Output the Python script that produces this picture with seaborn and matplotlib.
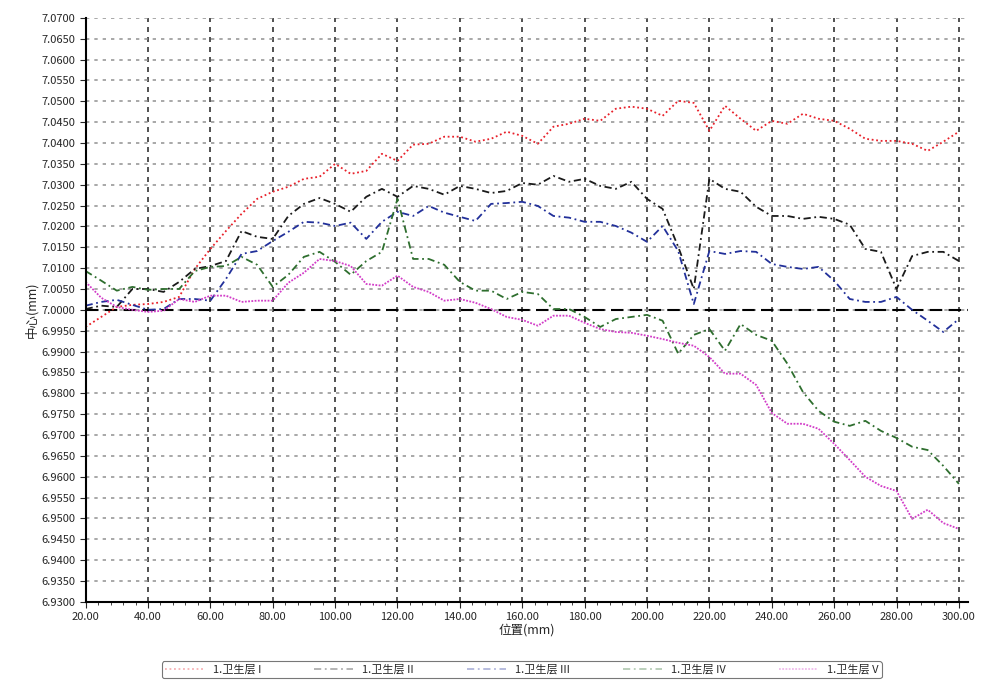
import numpy as np
import pandas as pd
import seaborn as sns
from matplotlib import pyplot as plt
from matplotlib.ticker import MultipleLocator, FormatStrFormatter

# positions along the part (mm)
positions = list(range(20, 301, 5))

layer_1 = [6.9959, 6.9983, 7.0007, 7.0012, 7.0014, 7.0019, 7.0031, 7.0098, 7.0146, 7.0189,
           7.0230, 7.0266, 7.0283, 7.0295, 7.0314, 7.0319, 7.0350, 7.0326, 7.0333, 7.0374,
           7.0357, 7.0396, 7.0398, 7.0415, 7.0415, 7.0403, 7.0410, 7.0427, 7.0417, 7.0398,
           7.0439, 7.0446, 7.0458, 7.0453, 7.0482, 7.0487, 7.0482, 7.0465, 7.0501, 7.0496,
           7.0429, 7.0489, 7.0458, 7.0429, 7.0453, 7.0446, 7.0470, 7.0458, 7.0453, 7.0434,
           7.0410, 7.0405, 7.0405, 7.0398, 7.0381, 7.0403, 7.0427]

layer_2 = [7.0002, 7.0010, 7.0007, 7.0050, 7.0050, 7.0043, 7.0067, 7.0098, 7.0105, 7.0117,
           7.0189, 7.0175, 7.0170, 7.0225, 7.0254, 7.0268, 7.0254, 7.0235, 7.0271, 7.0290,
           7.0271, 7.0297, 7.0290, 7.0276, 7.0297, 7.0290, 7.0280, 7.0285, 7.0304, 7.0300,
           7.0321, 7.0307, 7.0314, 7.0297, 7.0290, 7.0307, 7.0266, 7.0242, 7.0151, 7.0050,
           7.0314, 7.0290, 7.0283, 7.0247, 7.0225, 7.0225, 7.0218, 7.0223, 7.0218, 7.0204,
           7.0146, 7.0139, 7.0050, 7.0129, 7.0139, 7.0139, 7.0117]

layer_3 = [7.0010, 7.0019, 7.0024, 7.0012, 7.0000, 7.0002, 7.0026, 7.0026, 7.0022, 7.0074,
           7.0134, 7.0141, 7.0165, 7.0187, 7.0211, 7.0209, 7.0201, 7.0209, 7.0170, 7.0211,
           7.0235, 7.0225, 7.0249, 7.0233, 7.0223, 7.0213, 7.0254, 7.0256, 7.0259, 7.0249,
           7.0225, 7.0221, 7.0211, 7.0211, 7.0201, 7.0185, 7.0163, 7.0201, 7.0141, 7.0014,
           7.0141, 7.0134, 7.0141, 7.0139, 7.0110, 7.0103, 7.0098, 7.0103, 7.0070, 7.0026,
           7.0019, 7.0019, 7.0031, 7.0000, 6.9974, 6.9947, 6.9978]

layer_4 = [7.0093, 7.0070, 7.0046, 7.0055, 7.0048, 7.0050, 7.0050, 7.0093, 7.0103, 7.0105,
           7.0127, 7.0108, 7.0055, 7.0084, 7.0127, 7.0139, 7.0115, 7.0084, 7.0117, 7.0139,
           7.0266, 7.0122, 7.0122, 7.0108, 7.0067, 7.0046, 7.0046, 7.0026, 7.0043, 7.0038,
           7.0002, 7.0002, 6.9983, 6.9959, 6.9978, 6.9983, 6.9988, 6.9974, 6.9895, 6.9940,
           6.9954, 6.9902, 6.9966, 6.9940, 6.9926, 6.9871, 6.9803, 6.9758, 6.9732, 6.9722,
           6.9734, 6.9710, 6.9693, 6.9672, 6.9664, 6.9626, 6.9583]

layer_5 = [7.0067, 7.0029, 7.0007, 7.0000, 6.9995, 6.9998, 7.0026, 7.0019, 7.0034, 7.0034,
           7.0019, 7.0022, 7.0022, 7.0065, 7.0089, 7.0122, 7.0117, 7.0105, 7.0062, 7.0058,
           7.0082, 7.0055, 7.0043, 7.0022, 7.0026, 7.0017, 7.0002, 6.9983, 6.9976, 6.9962,
           6.9986, 6.9986, 6.9969, 6.9954, 6.9947, 6.9945, 6.9938, 6.9930, 6.9921, 6.9914,
           6.9887, 6.9847, 6.9847, 6.9820, 6.9753, 6.9727, 6.9727, 6.9715, 6.9679, 6.9640,
           6.9600, 6.9578, 6.9566, 6.9499, 6.9521, 6.9489, 6.9475]

series_names = ['1.卫生层 I', '1.卫生层 II', '1.卫生层 III', '1.卫生层 IV', '1.卫生层 V']
series_values = [layer_1, layer_2, layer_3, layer_4, layer_5]
series_colors = ['#e8202a', '#1a1a1a', '#22309a', '#2e6e2e', '#d23cc8']
series_styles = [(0, (1, 1.5)), (0, (4, 2, 1, 2)), (0, (4, 2, 1, 2)), (0, (4, 2, 1, 2)), (0, (1, 0.8))]

nominal = 7.0
x_ticks = list(range(20, 301, 20))

sns.set_style('white')
plt.rcParams['font.family'] = ['Noto Sans CJK SC', 'DejaVu Sans']

fig = plt.figure(figsize=(9.84, 6.84), dpi=100)
ax = fig.add_axes([0.087, 0.12, 0.897, 0.854])

for name, vals, col, ls in zip(series_names, series_values, series_colors, series_styles):
    df = pd.DataFrame({'pos': positions, 'val': vals})
    sns.lineplot(data=df, x='pos', y='val', ax=ax, color=col, linestyle=ls,
                 linewidth=1.3, label=name, legend=False)

ax.axhline(nominal, color='black', linestyle=(0, (6, 3)), linewidth=1.5, zorder=1)

ax.set_xlim(20, 303)
ax.set_ylim(6.9300, 7.0700)
ax.set_xticks(x_ticks)
ax.xaxis.set_minor_locator(MultipleLocator(4))
ax.yaxis.set_major_locator(MultipleLocator(0.005))
ax.xaxis.set_major_formatter(FormatStrFormatter('%.2f'))
ax.yaxis.set_major_formatter(FormatStrFormatter('%.4f'))
ax.tick_params(axis='both', which='major', labelsize=8, length=4, direction='out',
               left=True, bottom=True)
ax.tick_params(axis='x', which='minor', length=2.5, bottom=True)

ax.grid(axis='x', color='#333333', linestyle=(0, (3, 3)), linewidth=1.2)
ax.grid(axis='y', color='#999999', linestyle=(0, (2, 3)), linewidth=1.2)
ax.set_axisbelow(True)

sns.despine(ax=ax, top=True, right=True)
for side in ['left', 'bottom']:
    ax.spines[side].set_color('black')
    ax.spines[side].set_linewidth(1.5)

ax.set_xlabel('位置(mm)', fontsize=9, labelpad=1)
ax.set_ylabel('中心(mm)', fontsize=9, labelpad=2)

handles, labels = ax.get_legend_handles_labels()
leg = fig.legend(handles, labels, loc='lower center', bbox_to_anchor=(0.53, 0.0),
                 ncol=5, fontsize=8, frameon=True, handlelength=3.5, columnspacing=4.8,
                 borderpad=0.3)
leg.get_frame().set_edgecolor('#555555')
leg.get_frame().set_linewidth(0.8)
for line in leg.get_lines():
    line.set_alpha(0.35)

fig.savefig('out.png', dpi=100)
